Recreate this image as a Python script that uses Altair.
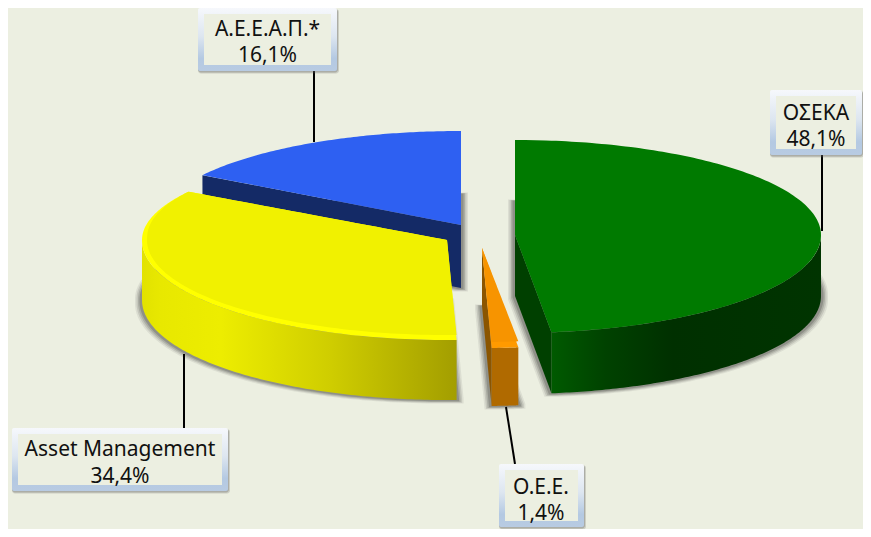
import math
import altair as alt
import pandas as pd

# ---- chart values -------------------------------------------------------
categories = ["ΟΣΕΚΑ", "Ο.Ε.Ε.", "Asset Management", "Α.Ε.Ε.Α.Π.*"]
shares = [48.1, 1.4, 34.4, 16.1]
share_labels = ["48,1%", "1,4%", "34,4%", "16,1%"]

BG = "#ECEFE1"
PW, PH = 855, 521
AX = alt.Scale(domain=[8, 8 + PW], range=[0, PW], nice=False, zero=False)
AY = alt.Scale(domain=[8, 8 + PH], range=[0, PH], nice=False, zero=False)

# wedge geometry: centre x, centre y, half width, back/front half heights, wall
GEOM = {
    0: dict(cx=515, cy=235, a=306, bt=95, bb=98, h=61),
    1: dict(cx=482, cy=248, a=305, bt=95, bb=100, h=58),
    2: dict(cx=447, cy=240, a=305, bt=91, bb=100, h=60),
    3: dict(cx=461, cy=225, a=305, bt=94, bb=94, h=63),
}

spans, acc = [], 0.0
for s in shares:
    spans.append((acc * 3.6, (acc + s) * 3.6))
    acc += s


def arc(g, t0, t1, n=90, rim=0.0, rim_end=None):
    pts = []
    for i in range(n + 1):
        d = t0 + (t1 - t0) * i / n
        t = math.radians(d)
        sn, cs = math.sin(t), math.cos(t)
        x = g["cx"] + g["a"] * sn
        y = g["cy"] - (g["bt"] if cs > 0 else g["bb"]) * cs
        if rim:
            fade = 1.0 if rim_end is None else min(1.0, max(0.0, (rim_end - d) / 30))
            x += rim * max(0, -sn) * fade
            y -= rim * max(0, -cs)
        pts.append((x, y))
    return pts


def envelope(poly):
    xs = sorted({round(p[0], 2) for p in poly})
    rows = []
    m = len(poly)
    for x in xs:
        ys = []
        for i in range(m):
            (x0, y0), (x1, y1) = poly[i], poly[(i + 1) % m]
            lo, hi = min(x0, x1), max(x0, x1)
            if lo - 0.006 <= x <= hi + 0.006:
                if abs(x1 - x0) < 1e-6:
                    ys += [y0, y1]
                else:
                    ys.append(y0 + (y1 - y0) * (x - x0) / (x1 - x0))
        rows.append({"x": x, "y": min(ys), "y2": max(ys)})
    return pd.DataFrame(rows)


def hull(points):
    pts = sorted(set(points))

    def half(seq):
        out = []
        for p in seq:
            while len(out) > 1 and (out[-1][0] - out[-2][0]) * (p[1] - out[-2][1]) - (
                out[-1][1] - out[-2][1]
            ) * (p[0] - out[-2][0]) <= 0:
                out.pop()
            out.append(p)
        return out[:-1]

    return half(pts) + half(pts[::-1])


def area(df, color, opacity=1.0):
    return (
        alt.Chart(df)
        .mark_area(color=color, opacity=opacity, interpolate="linear", line=False, clip=False)
        .encode(
            x=alt.X("x:Q", scale=AX, axis=None),
            y=alt.Y("y:Q", scale=AY, axis=None),
            y2="y2:Q",
        )
    )


def grad(stops, vertical=False):
    return alt.Gradient(
        gradient="linear",
        stops=[alt.GradientStop(color=c, offset=o) for o, c in stops],
        x1=0,
        y1=0,
        x2=0 if vertical else 1,
        y2=1 if vertical else 0,
    )


def wedge(i, rim=0.0, rim_end=None, dy=0.0):
    g = GEOM[i]
    t0, t1 = spans[i]
    p = [(g["cx"], g["cy"])] + arc(g, t0, t1, rim=rim, rim_end=rim_end)
    return [(x, y + dy) for x, y in p]


def wall(i, t0, t1):
    g = GEOM[i]
    return pd.DataFrame(
        [{"x": x, "y": y, "y2": y + g["h"]} for x, y in arc(g, t0, t1, n=120)]
    )


def cut(p, q, h):
    # vertical parallelogram hanging under the straight edge p-q
    return envelope([p, q, (q[0], q[1] + h), (p[0], p[1] + h)])


layers = []

# soft shadows: the bottom face of every wedge, slightly grown
for i in [3, 2, 0, 1]:
    base = wedge(i, dy=GEOM[i]["h"])
    for d, op in [(7, 0.10), (5.5, 0.16), (4, 0.22), (2.5, 0.3)]:
        shifted = []
        for x, y in base:
            shifted += [(x - d, y - d * 0.2), (x + d, y - d * 0.2), (x - d, y + d * 0.5), (x + d, y + d * 0.5)]
        layers.append(area(envelope(hull(shifted)), "#50504c", op))

# blue wedge
g = GEOM[3]
corner = arc(g, spans[3][0], spans[3][0], n=1)[0]
layers.append(area(cut(corner, (g["cx"], g["cy"]), g["h"]), "#142A66"))
layers.append(area(envelope(wedge(3)), "#2E60F2"))

# yellow wedge
layers.append(
    area(
        wall(2, spans[2][0], 271),
        grad([(0, "#E2E200"), (0.06, "#E8E800"), (0.25, "#EDED00"), (0.6, "#CFCD00"), (1, "#A39E00")]),
    )
)
layers.append(area(envelope(wedge(2)), "#FFFF00"))
layers.append(area(envelope(wedge(2, rim=5, rim_end=spans[2][1])), "#F1F100"))

# orange wedge
g = GEOM[1]
left = arc(g, spans[1][1], spans[1][1], n=1)[0]
layers.append(area(cut((g["cx"], g["cy"]), left, g["h"]), "#8B5500"))
layers.append(area(wall(1, spans[1][0], spans[1][1]), "#B06A00"))
layers.append(area(envelope(wedge(1)), "#FF9A00"))
layers.append(area(envelope(wedge(1, rim=6)), "#F79400"))

# green wedge
g = GEOM[0]
end = arc(g, spans[0][1], spans[0][1], n=1)[0]
layers.append(area(cut((g["cx"], g["cy"]), end, g["h"]), "#004000"))
layers.append(
    area(
        wall(0, 90, spans[0][1]),
        grad([(0, "#005A00"), (0.2, "#004200"), (0.45, "#003000"), (1, "#003400")]),
    )
)
layers.append(area(envelope(wedge(0)), "#007A00"))

# ---- leader lines --------------------------------------------------------
leaders = pd.DataFrame(
    [
        dict(x=822, y=155, x2=822, y2=231),
        dict(x=506, y=407, x2=515, y2=464),
        dict(x=184, y=354, x2=184, y2=428),
        dict(x=314, y=71, x2=314, y2=142),
    ]
)
layers.append(
    alt.Chart(leaders)
    .mark_rule(color="#000000", strokeWidth=2)
    .encode(
        x=alt.X("x:Q", scale=AX, axis=None),
        y=alt.Y("y:Q", scale=AY, axis=None),
        x2="x2:Q",
        y2="y2:Q",
    )
)

# ---- label boxes ---------------------------------------------------------
boxes = [
    dict(x0=770, y0=90, x1=862, y1=155, cx=816, b0=120, b1=146),
    dict(x0=499, y0=464, x1=584, y1=527, cx=541, b0=494, b1=520),
    dict(x0=12, y0=428, x1=228, y1=491, cx=120, b0=456, b1=483),
    dict(x0=198, y0=8, x1=337, y1=71, cx=267.5, b0=36, b1=62),
]


def rect(b, dx0, dy0, dx1, dy1, color, opacity=1.0, radius=0):
    df = pd.DataFrame(
        [dict(x=b["x0"] + dx0, y=b["y0"] + dy0, x2=b["x1"] + dx1, y2=b["y1"] + dy1)]
    )
    return (
        alt.Chart(df)
        .mark_rect(color=color, opacity=opacity, cornerRadius=radius)
        .encode(
            x=alt.X("x:Q", scale=AX, axis=None),
            y=alt.Y("y:Q", scale=AY, axis=None),
            x2="x2:Q",
            y2="y2:Q",
        )
    )


frame = grad([(0, "#F6F8FC"), (0.45, "#DDE6F0"), (0.8, "#B4C9E2"), (1, "#B8CBE2")], vertical=True)
for i, b in enumerate(boxes):
    layers.append(rect(b, 0, 1, 2, 2.5, "#606060", 0.22, 3))
    layers.append(rect(b, 0, 1, 1, 1.5, "#606060", 0.3, 3))
    layers.append(rect(b, 0, 0, 0, 0, frame, 1, 2))
    layers.append(rect(b, 6, 6, -6, -6, BG))

texts = []
for i, b in enumerate(boxes):
    texts.append(dict(x=b["cx"], y=b["b0"], t=categories[i]))
    texts.append(dict(x=b["cx"], y=b["b1"], t=share_labels[i]))
layers.append(
    alt.Chart(pd.DataFrame(texts))
    .mark_text(font="Noto Sans", fontSize=21, color="#111111", align="center", baseline="alphabetic")
    .encode(
        x=alt.X("x:Q", scale=AX, axis=None),
        y=alt.Y("y:Q", scale=AY, axis=None),
        text="t:N",
    )
)

chart = (
    alt.layer(*layers)
    .properties(
        width=PW,
        height=PH,
        background=BG,
        padding=0,
        autosize=alt.AutoSizeParams(type="none"),
    )
    .configure_view(stroke=None)
)

chart.save("out.html", embed_options={"renderer": "svg", "actions": False})
